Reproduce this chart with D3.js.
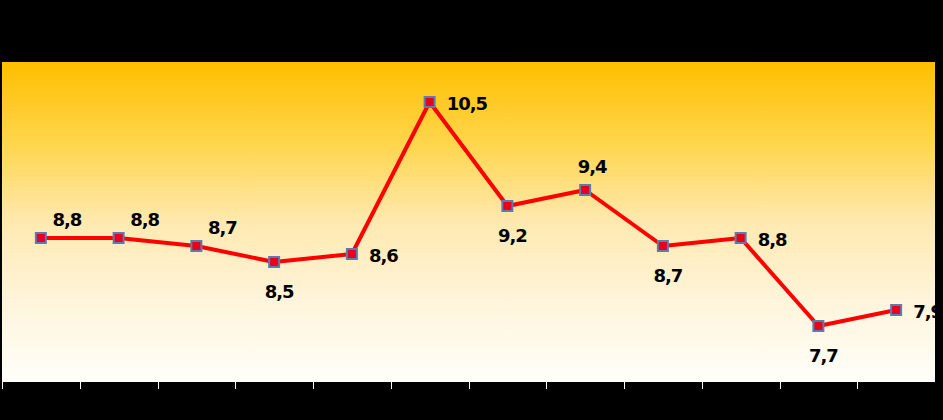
<!DOCTYPE html>
<html>
<head>
<meta charset="utf-8">
<script src="https://cdn.jsdelivr.net/npm/d3@7/dist/d3.min.js"></script>
<style>
  html, body { margin: 0; padding: 0; background: #000; }
  svg { display: block; }
</style>
</head>
<body>
<script>
// ---- data ----
const categories = ["1","2","3","4","5","6","7","8","9","10","11","12"];
const values = [8.8, 8.8, 8.7, 8.5, 8.6, 10.5, 9.2, 9.4, 8.7, 8.8, 7.7, 7.9];
const labelTexts = ["8,8","8,8","8,7","8,5","8,6","10,5","9,2","9,4","8,7","8,8","7,7","7,9"];
const labelPlacement = ["aboveRight","aboveRight","aboveRight","below","right","right","below","above","below","right","below","right"];
const yDomain = [7, 11];

// ---- layout ----
const W = 943, H = 420;
const plot = { left: 2, right: 935, top: 62, bottom: 382 };

const svg = d3.select("body").append("svg").attr("width", W).attr("height", H);
svg.append("rect").attr("width", W).attr("height", H).attr("fill", "#000");

const defs = svg.append("defs");
const grad = defs.append("linearGradient").attr("id", "bg").attr("x1", 0).attr("y1", 0).attr("x2", 0).attr("y2", 1);
[[0, "#ffbf00"], [0.25, "#ffd54a"], [0.5, "#ffe9b0"], [0.75, "#fff5dc"], [1, "#fffefa"]].forEach(([o, c]) =>
  grad.append("stop").attr("offset", o).attr("stop-color", c));

svg.append("rect")
  .attr("x", plot.left).attr("y", plot.top)
  .attr("width", plot.right - plot.left).attr("height", plot.bottom - plot.top)
  .attr("fill", "url(#bg)");

const x = d3.scaleBand().domain(categories).range([plot.left, plot.right]).paddingInner(0).paddingOuter(0);
const y = d3.scaleLinear().domain(yDomain).range([plot.bottom, plot.top]);

// axis ticks at category boundaries
const gx = svg.append("g").attr("transform", `translate(0,${plot.bottom})`);
const bounds = categories.map(c => x(c)).concat([x(categories[categories.length - 1]) + x.bandwidth()]);
gx.selectAll("line.b").data(bounds).enter().append("line")
  .attr("x1", d => Math.round(d) + 0.5).attr("x2", d => Math.round(d) + 0.5)
  .attr("y1", 0).attr("y2", 7)
  .attr("stroke", "#fff").attr("stroke-width", 1);

const cx = c => x(c) + x.bandwidth() / 2;

// line
const line = d3.line().x((d, i) => cx(categories[i])).y(d => y(d));
svg.append("path").datum(values)
  .attr("d", line)
  .attr("fill", "none")
  .attr("stroke", "#ff0000")
  .attr("stroke-width", 4)
  .attr("stroke-linejoin", "round");

// markers
svg.selectAll("rect.m").data(values).enter().append("rect")
  .attr("x", (d, i) => cx(categories[i]) - 5)
  .attr("y", d => y(d) - 5)
  .attr("width", 10).attr("height", 10)
  .attr("fill", "#e8001c")
  .attr("stroke", "#5a7db0")
  .attr("stroke-width", 2);

// labels
const offsets = {
  aboveRight: { dx: 26, dy: -12, anchor: "middle" },
  above: { dx: 7, dy: -17, anchor: "middle" },
  below: { dx: 5, dy: 36, anchor: "middle" },
  right: { dx: 17, dy: 7.5, anchor: "start" }
};
svg.selectAll("text.lbl").data(values).enter().append("text")
  .attr("x", (d, i) => cx(categories[i]) + offsets[labelPlacement[i]].dx)
  .attr("y", (d, i) => y(d) + offsets[labelPlacement[i]].dy)
  .attr("text-anchor", (d, i) => offsets[labelPlacement[i]].anchor)
  .attr("font-family", "'DejaVu Sans', Verdana, sans-serif")
  .attr("font-weight", "bold")
  .attr("font-size", "18px")
  .attr("letter-spacing", "-1px")
  .attr("fill", "#000")
  .text((d, i) => labelTexts[i]);

// right black strip
svg.append("rect").attr("x", plot.right).attr("y", 0).attr("width", W - plot.right).attr("height", H).attr("fill", "#000");
</script>
</body>
</html>
